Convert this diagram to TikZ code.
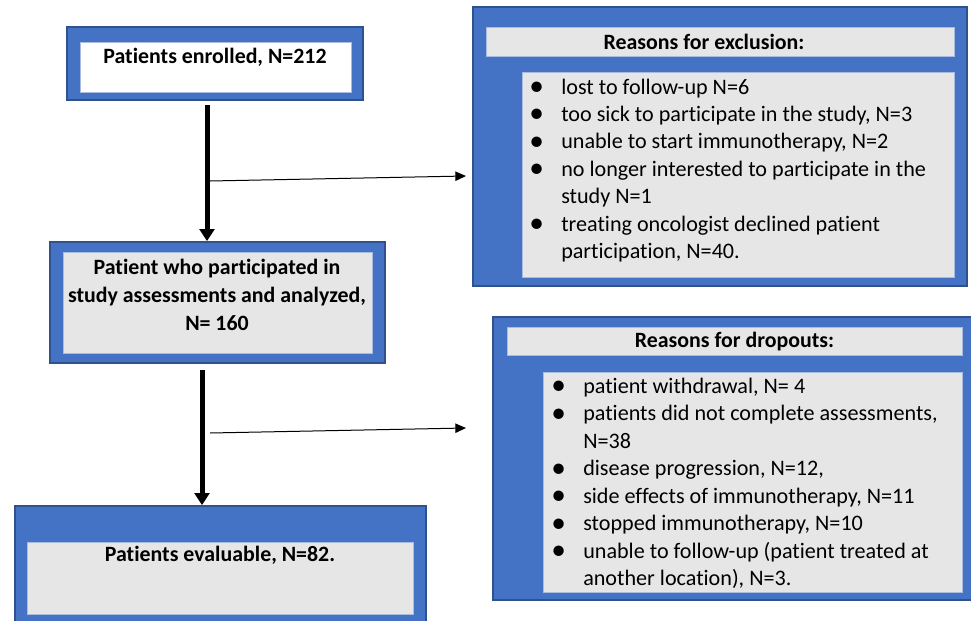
\documentclass[tikz,border=0pt]{standalone}
\usepackage{fontspec}
\setmainfont{Carlito}[Ligatures=NoCommon]
\usetikzlibrary{arrows.meta}
\definecolor{boxblue}{HTML}{4472C4}
\definecolor{boxedge}{HTML}{2F528F}
\definecolor{boxgray}{HTML}{E7E6E6}
\definecolor{inneredge}{HTML}{A9BCE0}
\newcommand{\bulitem}{\makebox[24pt][l]{\fontsize{22pt}{20.6pt}\selectfont\raisebox{-0.1ex}{\textbullet}}}
\newcommand{\bulcont}{\hspace*{24pt}}
\begin{document}
\begin{tikzpicture}[x=0.75pt,y=-0.75pt,
  outerbox/.style={draw=boxedge,line width=1.3pt,fill=boxblue,inner sep=0pt},
  innerbox/.style={draw=inneredge,line width=0.6pt,fill=boxgray,inner sep=0pt},
  txt/.style={font=\fontsize{16.6pt}{20.6pt}\selectfont,inner sep=0pt},
  boldtxt/.style={font=\fontsize{16.4pt}{21pt}\selectfont\bfseries,inner sep=0pt},
  flow/.style={line width=3.75pt,-{Triangle[width=11pt,length=9pt]}},
  side/.style={line width=0.75pt,-{Triangle[width=7pt,length=8pt]}}]
\useasboundingbox (0,0) rectangle (971,621);
\clip (0,0) rectangle (971,621);
\fill[white] (0,0) rectangle (971,621);
% left column
\node[outerbox,minimum width=222pt,minimum height=54.75pt] (enrolled) at (215,63.5) {};
\node[innerbox,fill=white,minimum width=203.25pt,minimum height=37.5pt] (enrolledin) at (215.5,67) {};
\node[boldtxt] (enrolledtxt) at (215,57) {Patients enrolled, N=212};
\node[outerbox,minimum width=251.25pt,minimum height=90.75pt] (analyzed) at (217.5,302.5) {};
\node[innerbox,minimum width=231.75pt,minimum height=75.75pt] (analyzedin) at (217.5,302.5) {};
\node[boldtxt,align=center] (analyzedtxt) at (217,295)
  {Patient who participated in\\ study assessments and analyzed,\\ N= 160};
\node[outerbox,minimum width=308.25pt,minimum height=100.5pt] (evaluable) at (220.5,573) {};
\node[innerbox,minimum width=289.5pt,minimum height=54pt] (evaluablein) at (220,578) {};
\node[boldtxt] (evaluabletxt) at (220,555) {Patients evaluable, N=82.};
% right column
\node[outerbox,minimum width=370.5pt,minimum height=209.25pt] (exclusion) at (720,146.5) {};
\node[innerbox,minimum width=351pt,minimum height=21.75pt] (exclhead) at (720,41.5) {};
\node[boldtxt] (exclheadtxt) at (704,42) {Reasons for exclusion:};
\node[innerbox,minimum width=324pt,minimum height=153.75pt] (excllist) at (738,174.5) {};
\node[txt,align=left,anchor=west] (excltxt) at (529,170.5)
  {\bulitem lost to follow-up N=6\\
   \bulitem too sick to participate in the study, N=3\\
   \bulitem unable to start immunotherapy, N=2\\
   \bulitem no longer interested to participate in the\\
   \bulcont study N=1\\
   \bulitem treating oncologist declined patient\\
   \bulcont participation, N=40.};
\node[outerbox,minimum width=365.25pt,minimum height=212.25pt] (dropouts) at (736.5,458.5) {};
\node[innerbox,minimum width=341.25pt,minimum height=21pt] (drophead) at (734.5,341) {};
\node[boldtxt] (dropheadtxt) at (734.5,341.5) {Reasons for dropouts:};
\node[innerbox,minimum width=314.25pt,minimum height=165pt] (droplist) at (752.5,482) {};
\node[txt,align=left,anchor=west] (droptxt) at (551,483.5)
  {\bulitem patient withdrawal, N= 4\\
   \bulitem patients did not complete assessments,\\
   \bulcont N=38\\
   \bulitem disease progression, N=12,\\
   \bulitem side effects of immunotherapy, N=11\\
   \bulitem stopped immunotherapy, N=10\\
   \bulitem unable to follow-up (patient treated at\\
   \bulcont another location), N=3.};
% connectors
\coordinate (down1) at (207,105);
\coordinate (down2) at (202,370);
\coordinate (branch1) at (210,181);
\coordinate (branch2) at (210,433);
\coordinate (tip1) at (466,176);
\coordinate (tip2) at (466,428);
\draw[flow] (down1) -- (down1 |- analyzed.north);
\draw[flow] (down2) -- (down2 |- evaluable.north);
\draw[side] (branch1) -- (tip1);
\draw[side] (branch2) -- (tip2);
\end{tikzpicture}
\end{document}
